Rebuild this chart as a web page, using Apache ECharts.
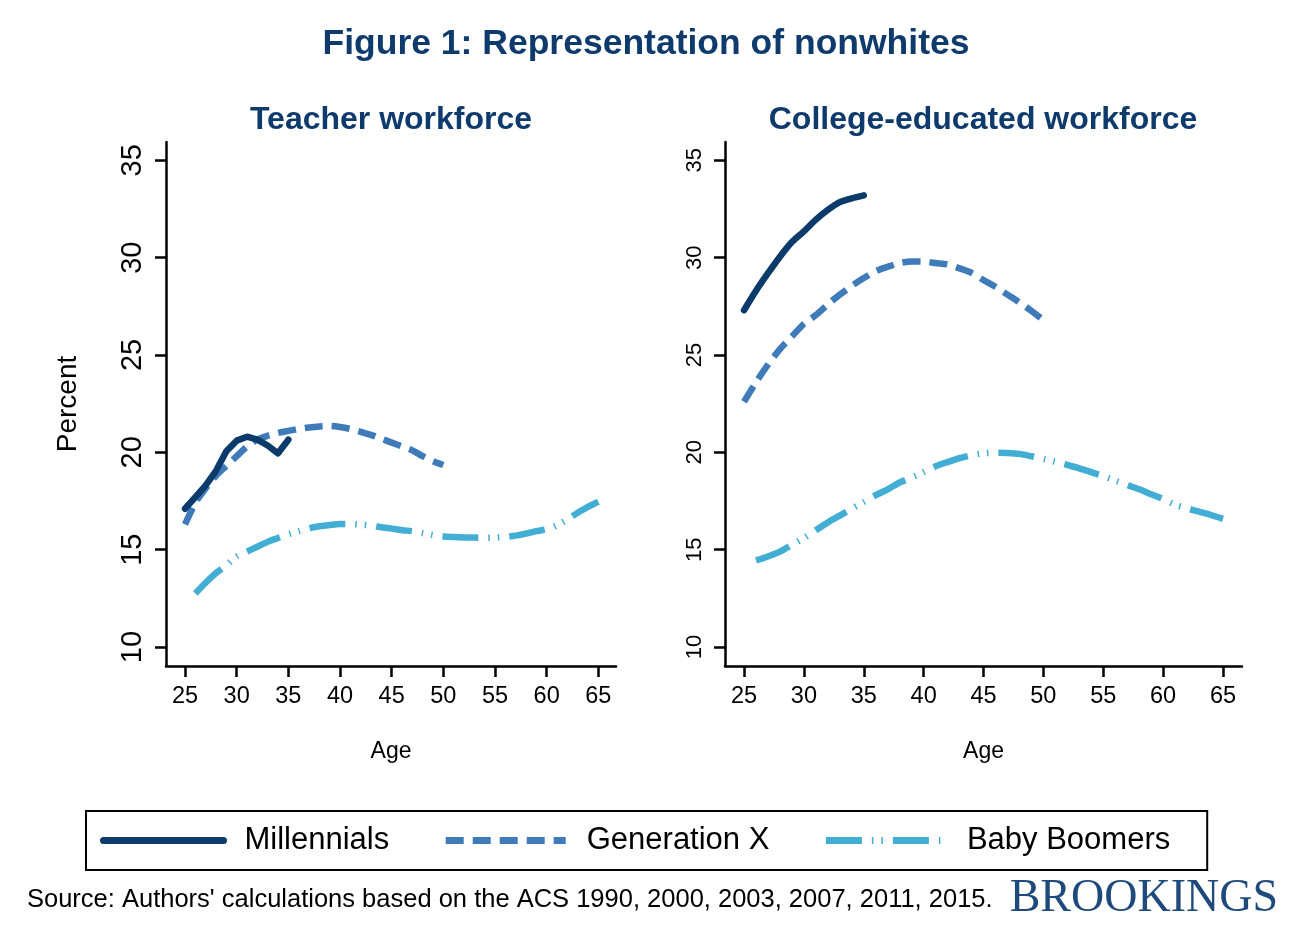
<!DOCTYPE html>
<html>
<head>
<meta charset="utf-8">
<script src="https://cdn.jsdelivr.net/npm/echarts@6/dist/echarts.min.js"></script>
<style>
html,body{margin:0;padding:0;background:#fff;}
#chart{width:1292px;height:932px;}
</style>
</head>
<body>
<div id="chart"></div>
<script>
// ---- data ----
var mainTitle = 'Figure 1: Representation of nonwhites';
var panelTitles = ['Teacher workforce', 'College-educated workforce'];
var seriesNames = ['Millennials', 'Generation X', 'Baby Boomers'];
var sourceText = "Source: Authors' calculations based on the ACS 1990, 2000, 2003, 2007, 2011, 2015.";
var yTicks = [10, 15, 20, 25, 30, 35];
var xTicks = [25, 30, 35, 40, 45, 50, 55, 60, 65];

var agesMillennials = [25, 26, 27, 28, 29, 30, 31, 32, 33, 34, 35];
var agesGenX = [25, 26, 27, 28, 29, 30, 31, 32, 33, 34, 35, 36, 37, 38, 39, 40, 41, 42, 43, 44, 45, 46, 47, 48, 49, 50];
var agesBoomers = [26, 27, 28, 29, 30, 31, 32, 33, 34, 35, 36, 37, 38, 39, 40, 41, 42, 43, 44, 45, 46, 47, 48, 49, 50, 51, 52, 53, 54, 55, 56, 57, 58, 59, 60, 61, 62, 63, 64, 65];

var teacherMillennials = [17.1, 17.7, 18.3, 19.05, 20.05, 20.6, 20.8, 20.65, 20.35, 19.95, 20.65];
var teacherGenX = [16.3, 17.4, 18.15, 18.8, 19.3, 19.8, 20.3, 20.65, 20.85, 21.0, 21.1, 21.2, 21.28, 21.33, 21.35, 21.3, 21.2, 21.05, 20.9, 20.7, 20.5, 20.3, 20.1, 19.8, 19.55, 19.35];
var teacherBoomers = [12.75, 13.3, 13.8, 14.2, 14.65, 14.9, 15.15, 15.4, 15.6, 15.8, 15.95, 16.1, 16.2, 16.27, 16.32, 16.32, 16.28, 16.24, 16.15, 16.08, 16.0, 15.95, 15.85, 15.75, 15.68, 15.65, 15.63, 15.62, 15.61, 15.62, 15.66, 15.72, 15.82, 15.95, 16.05, 16.25, 16.55, 16.9, 17.2, 17.46];

var collegeMillennials = [27.3, 28.3, 29.2, 30.05, 30.8, 31.35, 31.95, 32.45, 32.85, 33.05, 33.2];
var collegeGenX = [22.6, 23.6, 24.5, 25.3, 25.95, 26.6, 27.05, 27.6, 28.1, 28.55, 28.95, 29.3, 29.53, 29.72, 29.8, 29.8, 29.72, 29.65, 29.45, 29.22, 28.85, 28.5, 28.1, 27.7, 27.27, 26.8];
var collegeBoomers = [14.45, 14.65, 14.9, 15.25, 15.6, 16.0, 16.4, 16.75, 17.1, 17.45, 17.8, 18.1, 18.45, 18.7, 18.98, 19.28, 19.5, 19.7, 19.85, 19.95, 19.98, 19.97, 19.92, 19.8, 19.66, 19.52, 19.35, 19.18, 18.98, 18.78, 18.55, 18.32, 18.1, 17.85, 17.6, 17.3, 17.12, 16.95, 16.78, 16.58];

// ---- styling ----
var FONT = '"Liberation Sans", Arial, sans-serif';
var colors = ['#0b3a6b', '#3f7bb9', '#42aed4'];
var dashes = ['solid', [18, 9], [36, 10, 1.5, 8, 1.5, 10]];
var caps = ['round', 'butt', 'butt'];

function zip(xs, ys) { return xs.map(function (x, i) { return [x, ys[i]]; }); }

var panels = [
  { m: teacherMillennials, g: teacherGenX, b: teacherBoomers, xmin: 23.16, xmax: 66.71, ylab: 29 },
  { m: collegeMillennials, g: collegeGenX, b: collegeBoomers, xmin: 23.41, xmax: 66.59, ylab: 22 }
];

var grids = [
  { left: 166, top: 142, width: 450, height: 524 },
  { left: 725, top: 142, width: 517, height: 524 }
];

var xAxes = [], yAxes = [], series = [];
panels.forEach(function (p, i) {
  xAxes.push({
    type: 'value', gridIndex: i, min: p.xmin, max: p.xmax,
    name: 'Age', nameLocation: 'middle', nameGap: 74,
    nameTextStyle: { fontFamily: FONT, fontSize: 23, color: '#000' },
    axisLine: { show: true, lineStyle: { color: '#000', width: 2.5 } },
    axisTick: { show: true, length: 11, lineStyle: { color: '#000', width: 2.5 }, customValues: xTicks },
    axisLabel: { fontFamily: FONT, fontSize: 23.5, color: '#000', margin: 19, customValues: xTicks },
    splitLine: { show: false }
  });
  yAxes.push({
    type: 'value', gridIndex: i, min: 9.024, max: 35.94,
    name: i === 0 ? 'Percent' : '', nameLocation: 'middle', nameGap: 84, nameRotate: 90,
    nameTextStyle: { fontFamily: FONT, fontSize: 28, color: '#000' },
    axisLine: { show: true, lineStyle: { color: '#000', width: 2.5 } },
    axisTick: { show: true, length: 11, lineStyle: { color: '#000', width: 2.5 }, customValues: yTicks },
    axisLabel: { fontFamily: FONT, fontSize: p.ylab, color: '#000', margin: 19, rotate: 90, customValues: yTicks },
    splitLine: { show: false }
  });
  var ys = [p.m, p.g, p.b];
  var xs = [agesMillennials, agesGenX, agesBoomers];
  for (var k = 0; k < 3; k++) {
    series.push({
      name: seriesNames[k], type: 'line', xAxisIndex: i, yAxisIndex: i,
      data: zip(xs[k], ys[k]), symbol: 'none', showSymbol: false,
      smooth: (i === 0 && k === 0) ? false : 0.3,
      z: 10 - k,
      lineStyle: { color: colors[k], width: 6.5, type: dashes[k], cap: caps[k], join: 'round' },
      itemStyle: { color: colors[k] },
      emphasis: { disabled: true },
      animation: false
    });
  }
});

var chart = echarts.init(document.getElementById('chart'), null, { renderer: 'canvas' });
chart.setOption({
  backgroundColor: '#fff',
  animation: false,
  title: [
    { text: mainTitle, left: 646, top: 26, textAlign: 'center', padding: 0,
      textStyle: { fontFamily: FONT, fontSize: 35.5, fontWeight: 'bold', color: '#0e3a6c' } },
    { text: panelTitles[0], left: 391, top: 104, textAlign: 'center', padding: 0,
      textStyle: { fontFamily: FONT, fontSize: 32, fontWeight: 'bold', color: '#0e3a6c' } },
    { text: panelTitles[1], left: 983, top: 104, textAlign: 'center', padding: 0,
      textStyle: { fontFamily: FONT, fontSize: 32, fontWeight: 'bold', color: '#0e3a6c' } }
  ],
  grid: grids,
  xAxis: xAxes,
  yAxis: yAxes,
  legend: {
    data: seriesNames, left: 86, top: 811,
    orient: 'horizontal', itemWidth: 120, itemHeight: 30, itemGap: 53,
    padding: [14, 37, 14, 14],
    borderColor: '#000', borderWidth: 2, borderRadius: 0,
    lineStyle: { width: 7 },
    itemStyle: { opacity: 0 },
    textStyle: { fontFamily: FONT, fontSize: 31, color: '#000', padding: [10, 0, 0, 16] },
    selectedMode: false
  },
  graphic: [
    { type: 'text', left: 27, top: 887, style: { text: sourceText, fontFamily: FONT, fontSize: 25.5, fill: '#000' } },
    { type: 'text', right: 14, top: 876, style: { text: 'BROOKINGS', fontFamily: '"Liberation Serif", "Times New Roman", serif', fontSize: 46, fill: '#1f4a7c' } }
  ],
  series: series
});
</script>
</body>
</html>
